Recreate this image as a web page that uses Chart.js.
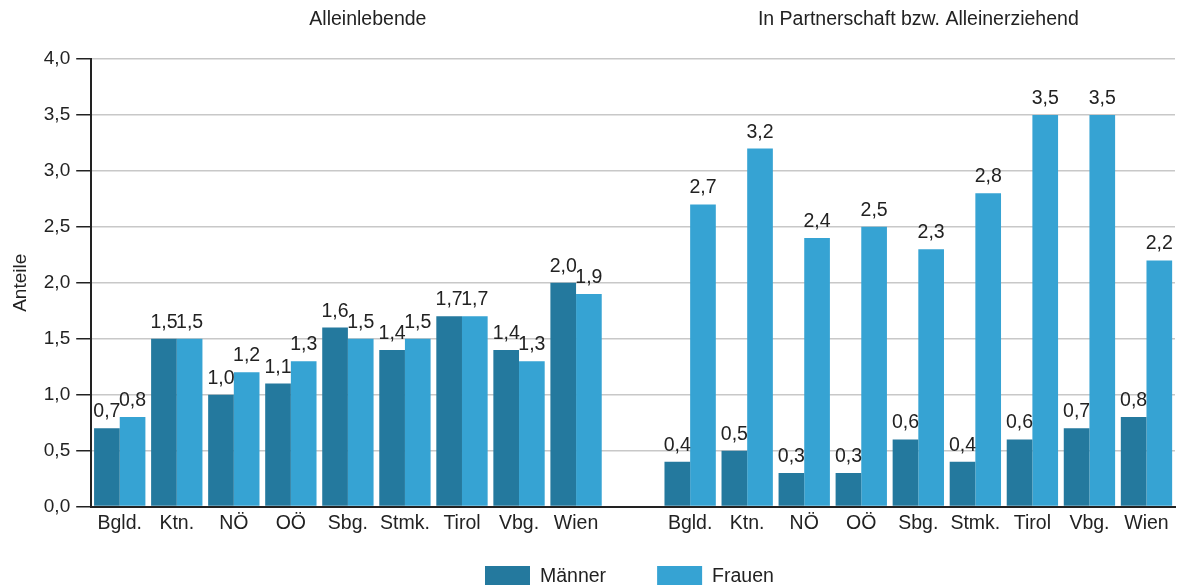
<!DOCTYPE html>
<html>
<head>
<meta charset="utf-8">
<script src="https://cdn.jsdelivr.net/npm/chart.js@4"></script>
<style>
  html, body { margin: 0; padding: 0; background: #fff; }
  #wrap { width: 1179px; height: 585px; }
</style>
</head>
<body>
<div id="wrap"><canvas id="grafico"></canvas></div>
<script>
// Bundesländer und Gruppen
const laender = ['Bgld.', 'Ktn.', 'NÖ', 'OÖ', 'Sbg.', 'Stmk.', 'Tirol', 'Vbg.', 'Wien'];
const gruppen = ['Alleinlebende', 'In Partnerschaft bzw. Alleinerziehend'];

// Werte (Anteile)
const maennerAllein = [0.7, 1.5, 1.0, 1.1, 1.6, 1.4, 1.7, 1.4, 2.0];
const frauenAllein = [0.8, 1.5, 1.2, 1.3, 1.5, 1.5, 1.7, 1.3, 1.9];
const maennerPartner = [0.4, 0.5, 0.3, 0.3, 0.6, 0.4, 0.6, 0.7, 0.8];
const frauenPartner = [2.7, 3.2, 2.4, 2.5, 2.3, 2.8, 3.5, 3.5, 2.2];

const yTicks = [0, 0.5, 1, 1.5, 2, 2.5, 3, 3.5, 4];

// leere Kategorie zwischen den beiden Gruppen
const etiquetas = [...laender, '', ...laender];
const datosMaenner = [...maennerAllein, null, ...maennerPartner];
const datosFrauen = [...frauenAllein, null, ...frauenPartner];

const txt = '#222222';
const fuente = "'Liberation Sans', Arial, sans-serif";
const tam = 19;
const tamGross = 19.5;
const fmt = v => v.toFixed(1).replace('.', ',');

// Werte über den Balken
const etiquetasBarras = {
    id: 'etiquetasBarras',
    afterDatasetsDraw(chart) {
        const ctx = chart.ctx;
        ctx.save();
        ctx.font = tamGross + 'px ' + fuente;
        ctx.fillStyle = txt;
        ctx.textAlign = 'center';
        ctx.textBaseline = 'alphabetic';
        chart.data.datasets.forEach((ds, i) => {
            chart.getDatasetMeta(i).data.forEach((bar, j) => {
                const v = ds.data[j];
                if (v === null) return;
                ctx.fillText(fmt(v), bar.x, bar.y - 11);
            });
        });
        ctx.restore();
    }
};

// Gruppentitel oben + Legende unten
const textos = {
    id: 'textos',
    afterDraw(chart) {
        const ctx = chart.ctx;
        const x = chart.scales.x;
        ctx.save();
        ctx.font = tamGross + 'px ' + fuente;
        ctx.fillStyle = txt;
        ctx.textAlign = 'center';
        ctx.textBaseline = 'middle';
        ctx.fillText(gruppen[0], x.getPixelForValue(4.35), 20);
        ctx.fillText(gruppen[1], x.getPixelForValue(14), 20);

        // Legende
        ctx.textAlign = 'left';
        ctx.textBaseline = 'alphabetic';
        let lx = 485;
        chart.data.datasets.forEach(ds => {
            ctx.fillStyle = ds.backgroundColor;
            ctx.fillRect(lx, 566, 45, 20);
            ctx.fillStyle = txt;
            ctx.fillText(ds.label, lx + 55, 582);
            lx += 55 + ctx.measureText(ds.label).width + 51;
        });
        ctx.restore();
    }
};

const ctx = document.getElementById('grafico').getContext('2d');
new Chart(ctx, {
    type: 'bar',
    data: {
        labels: etiquetas,
        datasets: [{
            label: 'Männer',
            data: datosMaenner,
            backgroundColor: '#24799e',
            categoryPercentage: 0.9,
            barPercentage: 1.0
        }, {
            label: 'Frauen',
            data: datosFrauen,
            backgroundColor: '#36a3d3',
            categoryPercentage: 0.9,
            barPercentage: 1.0
        }]
    },
    options: {
        responsive: true,
        maintainAspectRatio: false,
        animation: false,
        layout: { padding: { top: 59, right: 4, left: 0, bottom: 45 } },
        plugins: {
            legend: { display: false },
            tooltip: { enabled: false }
        },
        scales: {
            x: {
                grid: { display: false, drawTicks: false },
                border: { color: txt, width: 2 },
                ticks: { color: txt, font: { family: fuente, size: tamGross }, padding: 5, maxRotation: 0, autoSkip: false }
            },
            y: {
                min: 0,
                max: 4,
                afterBuildTicks: axis => { axis.ticks = yTicks.map(v => ({ value: v })); },
                grid: { color: '#c8c8c8', tickColor: txt, tickLength: 15, lineWidth: 1.5 },
                border: { color: txt, width: 2 },
                ticks: { color: txt, font: { family: fuente, size: tam }, padding: 6, callback: v => fmt(v) },
                title: { display: true, text: 'Anteile', color: txt, font: { family: fuente, size: tam }, padding: { top: 9, bottom: 6 } }
            }
        }
    },
    plugins: [etiquetasBarras, textos]
});
</script>
</body>
</html>
